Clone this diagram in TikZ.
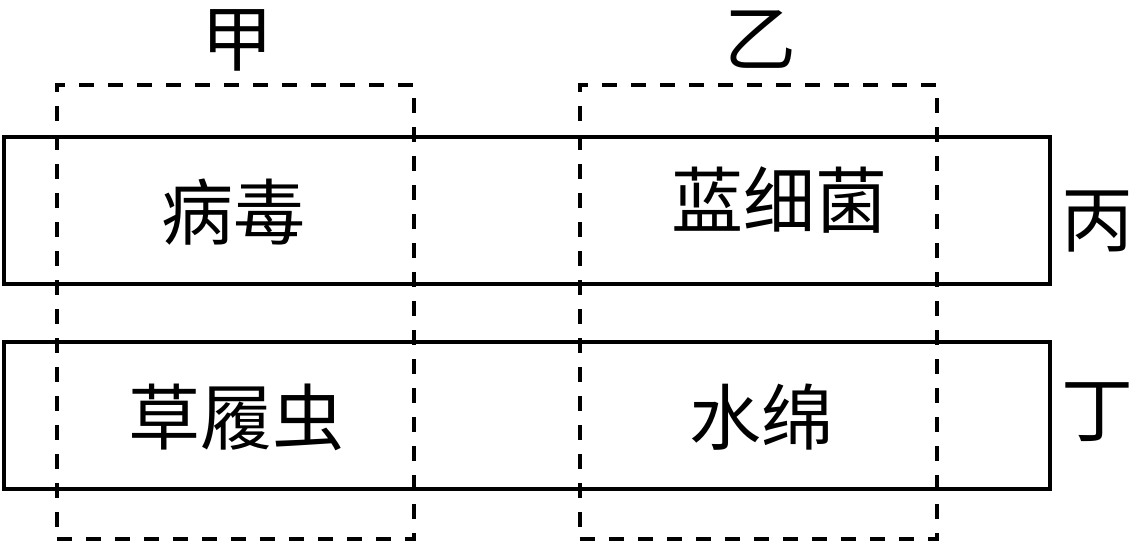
\documentclass[tikz,border=0pt]{standalone}
\usepackage{fontspec}
\newfontfamily\cjk{Noto Sans CJK SC}
\begin{document}
\begin{tikzpicture}[x=1pt,y=-1pt,
  solidbox/.style={draw=black,line width=3.5pt,minimum width=1046pt,minimum height=147pt,inner sep=0pt,anchor=north west},
  dashbox/.style={draw=black,line width=3.5pt,dash pattern=on 15pt off 14pt,minimum width=357pt,minimum height=454pt,inner sep=0pt,anchor=north west},
  lbl/.style={font=\cjk\fontsize{72}{80}\selectfont,inner sep=0pt,anchor=center}]
\useasboundingbox (0,0) rectangle (1133,541);
\node[solidbox] (r1) at (2,135) {};
\node[solidbox] (r2) at (2,340) {};
\node[dashbox] (c1) at (55,83) {};
\node[dashbox] (c2) at (578,83) {};
\node[lbl] (jia) at (237,40) {甲};
\node[lbl] (yi) at (760,40) {乙};
\node[lbl] (bing) at (1097,222) {丙};
\node[lbl] (ding) at (1097,412) {丁};
\node[lbl] (t1) at (233,212) {病毒};
\node[lbl] (t2) at (779,200) {蓝细菌};
\node[lbl] (t3) at (236,417) {草履虫};
\node[lbl] (t4) at (761,417) {水绵};
\end{tikzpicture}
\end{document}
